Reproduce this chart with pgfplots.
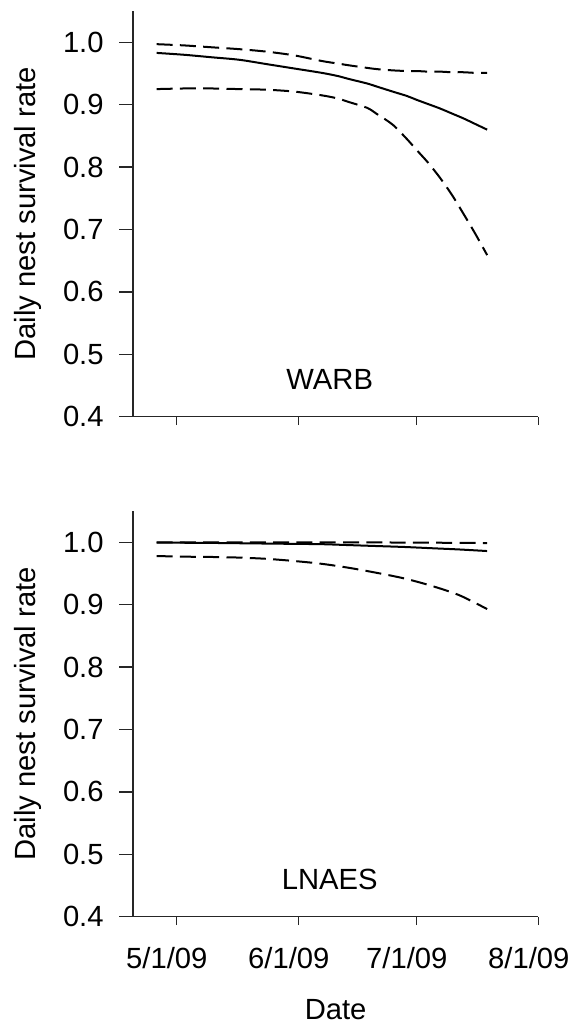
\documentclass[border=0pt]{standalone}
\usepackage{fontspec}
\setmainfont{Liberation Sans}
\usepackage{pgfplots}
\usepackage{pgfplotstable}
\pgfplotsset{compat=1.18}

% Days counted from 1 May 2009; est = estimate, lo/hi = confidence limits
\pgfplotstableread{
day  est     lo     hi
-5   0.983   0.925  0.997
2    0.980   0.926  0.995
9    0.976   0.926  0.992
16   0.972   0.925  0.989
23   0.965   0.924  0.985
30   0.958   0.921  0.979
37   0.951   0.915  0.970
41   0.946   0.910  0.966
44   0.941   0.904  0.963
48.5 0.934   0.895  0.959
51   0.929   0.885  0.957
55   0.921   0.868  0.955
58.6 0.914   0.845  0.954
61   0.908   0.828  0.954
64   0.901   0.807  0.953
67   0.894   0.783  0.953
70   0.886   0.756  0.952
73   0.878   0.725  0.952
76   0.869   0.693  0.951
79   0.860   0.659  0.951
}\warb

\pgfplotstableread{
day  est     lo     hi
-5   0.9995  0.978  1.000
2    0.9993  0.977  1.000
9    0.999   0.9765 1.000
16   0.9985  0.9755 1.000
23   0.998   0.9735 1.000
30   0.9975  0.970  1.000
37   0.997   0.9655 1.000
44   0.9955  0.959  1.000
51   0.994   0.951  0.9998
58   0.9925  0.942  0.9996
65   0.9905  0.930  0.9994
72   0.9885  0.915  0.9991
79   0.986   0.893  0.9988
}\lnaes

\newcommand\labfont{\fontsize{14.6pt}{17.5pt}\selectfont}

\pgfplotsset{
  nestaxis/.style={
    scale only axis, width=202.65pt, height=202.8pt,
    xmin=-11, xmax=92, ymin=0.4, ymax=1.05,
    axis lines=left,
    axis line style={-, black!85, line width=0.7pt},
    tick align=outside,
    tick style={black!85, line width=0.7pt},
    major tick length=4.2pt,
    xtick={0,31,61,92},
    ytick=\empty,
    extra y ticks={0.4,0.5,0.6,0.7,0.8,0.9,1.0},
    extra y tick labels={0.4,0.5,0.6,0.7,0.8,0.9,1.0},
    extra y tick style={major tick length=6.8pt,
      yticklabel style={anchor=east, inner sep=0pt, xshift=-7.7pt}},
    minor tick num=0,
    tick label style={font=\labfont},
    every axis y label/.style={at={(axis description cs:-0.2414,0.5)},
      rotate=90, anchor=base, font=\labfont},
    ylabel={Daily nest survival rate},
    clip=false,
  },
  est/.style={black, line width=1pt, smooth},
  ci/.style={black, line width=1pt, smooth, dash pattern=on 8pt off 3.65pt},
}

\begin{document}
\begin{tikzpicture}
\useasboundingbox (0,0) rectangle (287pt,-516pt);

% WARB panel
\begin{axis}[nestaxis, at={(66.5pt,-208.35pt)}, anchor=south west,
  xticklabels={}]
  \addplot[ci]  table[x=day, y=hi]  {\warb};
  \addplot[est] table[x=day, y=est] {\warb};
  \addplot[ci]  table[x=day, y=lo]  {\warb};
  \node[font=\labfont] at (axis cs:39,0.459) {WARB};
\end{axis}

% LNAES panel
\begin{axis}[nestaxis, at={(66.5pt,-458.35pt)}, anchor=south west,
  xticklabels={5/1/09,6/1/09,7/1/09,8/1/09},
  xticklabel style={anchor=north, inner sep=0pt, xshift=-4.75pt, yshift=-10.8pt},
  every axis x label/.style={at={(axis description cs:0.5,-0.2535)},
    anchor=base, font=\labfont},
  xlabel={Date}]
  \addplot[ci]  table[x=day, y=hi]  {\lnaes};
  \addplot[est] table[x=day, y=est] {\lnaes};
  \addplot[ci]  table[x=day, y=lo]  {\lnaes};
  \node[font=\labfont] at (axis cs:39,0.459) {LNAES};
\end{axis}
\end{tikzpicture}
\end{document}
